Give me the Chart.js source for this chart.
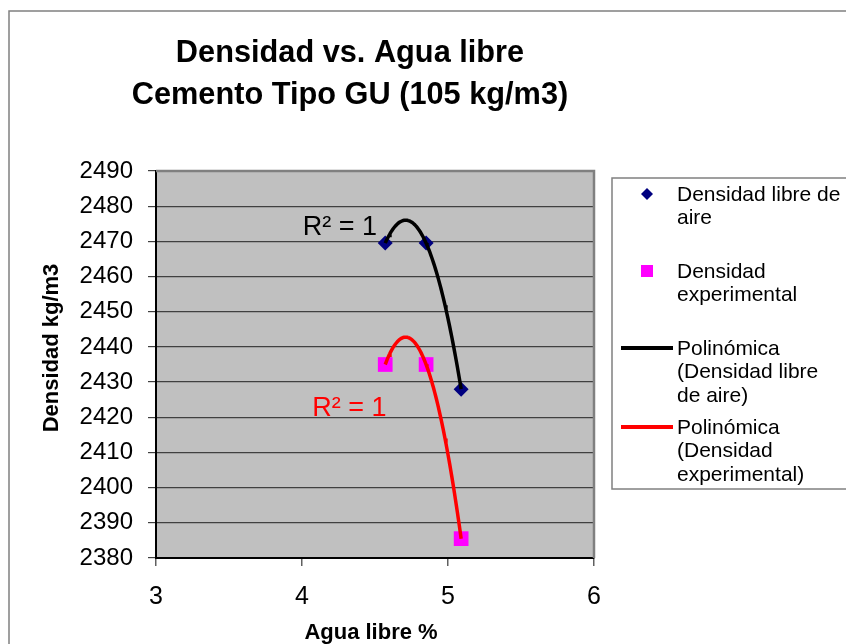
<!DOCTYPE html>
<html>
<head>
<meta charset="utf-8">
<script src="https://cdn.jsdelivr.net/npm/chart.js@4.4.0/dist/chart.umd.min.js"></script>
<style>
  html, body { margin: 0; padding: 0; background: #ffffff; }
  #wrap { width: 846px; height: 644px; position: relative; }
</style>
</head>
<body>
<div id="wrap"><canvas id="c" width="846" height="644"></canvas></div>
<script>
// Measured values
const aguaLibre = [4.57, 4.85, 5.09];
const densidadLibreAire = [2469.5, 2469.5, 2428];
const densidadExperimental = [2435, 2435, 2385.5];

// Axis ranges / ticks
const xTickValues = [3, 4, 5, 6];
const yTickValues = [2380, 2390, 2400, 2410, 2420, 2430, 2440, 2450, 2460, 2470, 2480, 2490];

// Text
const titleLines = ['Densidad vs. Agua libre', 'Cemento Tipo GU (105 kg/m3)'];
const xAxisTitle = 'Agua libre %';
const yAxisTitle = 'Densidad kg/m3';
const seriesNames = ['Densidad libre de aire', 'Densidad experimental'];
const trendNames = ['Polinómica (Densidad libre de aire)', 'Polinómica (Densidad experimental)'];
const r2Text = 'R² = 1';

const FONT = '"Liberation Sans", Arial, Helvetica, sans-serif';

// Least-squares polynomial (degree 2) fit, as a spreadsheet trendline does
function polyFit2(xs, ys) {
  let s0 = 0, s1 = 0, s2 = 0, s3 = 0, s4 = 0, t0 = 0, t1 = 0, t2 = 0;
  for (let i = 0; i < xs.length; i++) {
    const x = xs[i], y = ys[i];
    s0 += 1; s1 += x; s2 += x * x; s3 += x * x * x; s4 += x * x * x * x;
    t0 += y; t1 += x * y; t2 += x * x * y;
  }
  // Solve [[s0,s1,s2],[s1,s2,s3],[s2,s3,s4]] * [c,b,a] = [t0,t1,t2]
  const M = [[s0, s1, s2, t0], [s1, s2, s3, t1], [s2, s3, s4, t2]];
  for (let i = 0; i < 3; i++) {
    let p = i;
    for (let r = i + 1; r < 3; r++) if (Math.abs(M[r][i]) > Math.abs(M[p][i])) p = r;
    [M[i], M[p]] = [M[p], M[i]];
    for (let r = 0; r < 3; r++) {
      if (r === i) continue;
      const f = M[r][i] / M[i][i];
      for (let k = i; k < 4; k++) M[r][k] -= f * M[i][k];
    }
  }
  const c = M[0][3] / M[0][0], b = M[1][3] / M[1][1], a = M[2][3] / M[2][2];
  return x => a * x * x + b * x + c;
}

function trendPoints(xs, ys) {
  const f = polyFit2(xs, ys);
  const lo = Math.min(...xs), hi = Math.max(...xs);
  const pts = [];
  const n = 80;
  for (let i = 0; i <= n; i++) {
    const x = lo + (hi - lo) * i / n;
    pts.push({ x, y: f(x) });
  }
  return pts;
}

const toXY = (xs, ys) => xs.map((x, i) => ({ x, y: ys[i] }));

// Text drawn with a slight horizontal condensing
function condensedText(ctx, text, x, y, sx) {
  ctx.save();
  ctx.translate(x, y);
  ctx.scale(sx, 1);
  ctx.fillText(text, 0, 0);
  ctx.restore();
}

// Plot background, frame, titles, legend and R² labels
const decor = {
  id: 'decor',
  beforeDraw(chart) {
    const { ctx, chartArea: a } = chart;
    ctx.save();
    ctx.fillStyle = '#ffffff';
    ctx.fillRect(0, 0, chart.width, chart.height);
    // outer chart frame
    ctx.strokeStyle = '#808080';
    ctx.lineWidth = 1.5;
    ctx.beginPath();
    ctx.moveTo(9, chart.height + 2);
    ctx.lineTo(9, 11);
    ctx.lineTo(chart.width + 2, 11);
    ctx.stroke();
    // plot area fill
    ctx.fillStyle = '#c0c0c0';
    ctx.fillRect(a.left, a.top, a.right - a.left, a.bottom - a.top);
    ctx.restore();
  },
  beforeDatasetsDraw(chart) {
    const { ctx, chartArea: a } = chart;
    ctx.save();
    ctx.strokeStyle = '#808080';
    ctx.lineWidth = 2.5;
    ctx.beginPath();
    ctx.moveTo(a.left, a.top);
    ctx.lineTo(a.right, a.top);
    ctx.lineTo(a.right, a.bottom);
    ctx.stroke();
    ctx.restore();
  },
  afterDraw(chart) {
    const { ctx, scales } = chart;
    const sx = scales.x, sy = scales.y;
    ctx.save();
    // chart title
    ctx.fillStyle = '#000';
    ctx.textAlign = 'center';
    ctx.textBaseline = 'middle';
    ctx.font = 'bold 32px ' + FONT;
    condensedText(ctx, titleLines[0], 350, 53, 0.96);
    condensedText(ctx, titleLines[1], 350, 95, 0.96);

    // axis titles
    ctx.font = 'bold 22px ' + FONT;
    ctx.fillText(xAxisTitle, 371, 633);
    ctx.save();
    ctx.translate(52, 348);
    ctx.rotate(-Math.PI / 2);
    ctx.fillText(yAxisTitle, 0, 0);
    ctx.restore();

    // R² labels beside each trendline
    ctx.font = '27px ' + FONT;
    ctx.textAlign = 'left';
    ctx.fillStyle = '#000000';
    ctx.fillText(r2Text, sx.getPixelForValue(4.005), sy.getPixelForValue(2473.8));
    ctx.fillStyle = '#ff0000';
    ctx.fillText(r2Text, sx.getPixelForValue(4.07), sy.getPixelForValue(2422.5));

    // legend
    const L = { x: 612, y: 178, w: 240, h: 311 };
    ctx.fillStyle = '#ffffff';
    ctx.fillRect(L.x, L.y, L.w, L.h);
    ctx.strokeStyle = '#808080';
    ctx.lineWidth = 1.5;
    ctx.strokeRect(L.x, L.y, L.w, L.h);

    const tx = 677, lh = 23.5;
    ctx.font = '21px ' + FONT;
    ctx.fillStyle = '#000';
    ctx.textAlign = 'left';
    ctx.textBaseline = 'middle';
    const block = (lines, y0) => lines.forEach((t, i) => ctx.fillText(t, tx, y0 + i * lh));

    // diamond marker
    ctx.fillStyle = '#000080';
    ctx.beginPath();
    ctx.moveTo(647, 188); ctx.lineTo(653, 194); ctx.lineTo(647, 200); ctx.lineTo(641, 194);
    ctx.closePath(); ctx.fill();
    ctx.fillStyle = '#000';
    block(['Densidad libre de', 'aire'], 195);

    // square marker
    ctx.fillStyle = '#ff00ff';
    ctx.fillRect(641, 265, 12, 12);
    ctx.fillStyle = '#000';
    block(['Densidad', 'experimental'], 272);

    // trendline swatches
    ctx.lineWidth = 4;
    ctx.strokeStyle = '#000';
    ctx.beginPath(); ctx.moveTo(621, 348); ctx.lineTo(673, 348); ctx.stroke();
    block(['Polinómica', '(Densidad libre', 'de aire)'], 349);
    ctx.strokeStyle = '#ff0000';
    ctx.beginPath(); ctx.moveTo(621, 427); ctx.lineTo(673, 427); ctx.stroke();
    block(['Polinómica', '(Densidad', 'experimental)'], 428);
    ctx.restore();
  }
};

new Chart(document.getElementById('c'), {
  type: 'scatter',
  data: {
    datasets: [
      {
        label: trendNames[0],
        type: 'line',
        data: trendPoints(aguaLibre, densidadLibreAire),
        borderColor: '#000000',
        borderWidth: 3.5,
        pointRadius: 0,
        tension: 0,
        fill: false,
        order: 0
      },
      {
        label: trendNames[1],
        type: 'line',
        data: trendPoints(aguaLibre, densidadExperimental),
        borderColor: '#ff0000',
        borderWidth: 3.5,
        pointRadius: 0,
        tension: 0,
        fill: false,
        order: 0
      },
      {
        label: seriesNames[0],
        data: toXY(aguaLibre, densidadLibreAire),
        pointStyle: 'rectRot',
        pointRadius: 7.5,
        backgroundColor: '#000080',
        borderColor: '#000080',
        borderWidth: 0,
        order: 1
      },
      {
        label: seriesNames[1],
        data: toXY(aguaLibre, densidadExperimental),
        pointStyle: 'rect',
        pointRadius: 10.4,
        backgroundColor: '#ff00ff',
        borderColor: '#ff00ff',
        borderWidth: 0,
        order: 1
      }
    ]
  },
  options: {
    responsive: false,
    devicePixelRatio: 1,
    animation: false,
    layout: { padding: { top: 171, right: 252, left: 0, bottom: 0 } },
    plugins: {
      legend: { display: false },
      title: { display: false },
      tooltip: { enabled: false }
    },
    scales: {
      x: {
        type: 'linear',
        min: 3,
        max: 6,
        afterBuildTicks: s => { s.ticks = xTickValues.map(v => ({ value: v })); },
        afterFit: s => { s.height = 644 - 558; },
        ticks: { color: '#000', font: { family: FONT, size: 25 }, padding: 16, callback: v => String(v) },
        grid: { drawOnChartArea: false, drawTicks: true, tickLength: 8, color: '#606060', lineWidth: 1.5 },
        border: { color: '#000', width: 2 }
      },
      y: {
        type: 'linear',
        min: 2380,
        max: 2490,
        afterBuildTicks: s => { s.ticks = yTickValues.map(v => ({ value: v })); },
        afterFit: s => { s.width = 156; },
        ticks: { color: '#000', font: { family: FONT, size: 24 }, padding: 15, callback: v => String(v) },
        grid: { color: '#404040', lineWidth: 1.2, drawTicks: true, tickLength: 8 },
        border: { color: '#000', width: 2 }
      }
    }
  },
  plugins: [decor]
});
</script>
</body>
</html>
